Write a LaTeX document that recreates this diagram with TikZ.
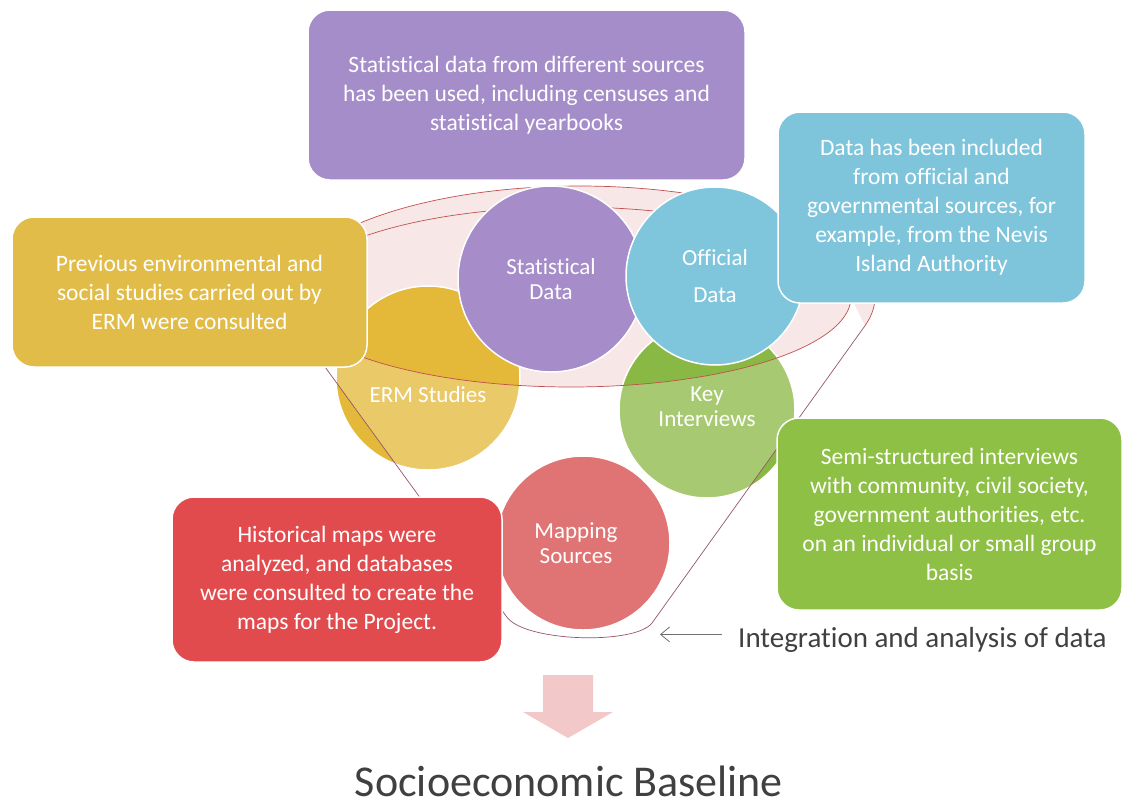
\documentclass[tikz,border=0pt]{standalone}
\usepackage{fontspec}
\setmainfont{Carlito}[Ligatures={NoCommon}]
\usetikzlibrary{arrows.meta}
\definecolor{cPurple}{HTML}{A58DC9}
\definecolor{cBlue}{HTML}{7EC5DB}
\definecolor{cYellow}{HTML}{E2BC48}
\definecolor{cRed}{HTML}{E24B4D}
\definecolor{cGreen}{HTML}{8DC044}
\definecolor{cErm}{HTML}{E4B838}
\definecolor{cKey}{HTML}{8AB844}
\definecolor{cMap}{HTML}{D64646}
\definecolor{cStat}{HTML}{A68CC8}
\definecolor{cOff}{HTML}{7FC6DC}
\definecolor{cRim}{HTML}{F8E7E7}
\definecolor{cLine}{HTML}{C0504D}
\definecolor{cBody}{HTML}{94566A}
\definecolor{cArrow}{HTML}{F3C8C8}
\definecolor{cText}{HTML}{404040}
\begin{document}
\begin{tikzpicture}[x=1pt,y=-1pt,
  box/.style={draw=white, line width=1.5pt, rounded corners=22pt, text=white, align=center,
    font=\fontsize{23.5}{29}\selectfont, inner sep=0pt},
  bubble/.style={circle, draw=white, line width=1.5pt, inner sep=0pt, text=white, align=center,
    font=\fontsize{23}{25}\selectfont},
  btext/.style={text=white, align=center, font=\fontsize{23}{25}\selectfont},
  rimline/.style={draw=cLine, line width=0.7pt},
  bodyline/.style={draw=cBody, line width=0.7pt},
  pointer/.style={draw=cText!75, line width=0.8pt, -{Straight Barb[length=9pt,width=15pt]}},
]
\useasboundingbox (0,0) rectangle (1123,809);
\fill[white] (0,0) rectangle (1123,809);

% funnel rim (pink)
\fill[cRim] plot[domain=164.7:375,samples=120] ({580+295*cos(\x)},{297+111*sin(\x)})
  -- plot[domain=0:180,samples=120] ({571+280*cos(\x)},{297+90*sin(\x)}) -- cycle;
\draw[rimline] plot[domain=164.7:375,samples=120] ({580+295*cos(\x)},{297+111*sin(\x)});
\draw[rimline] plot[domain=180:360,samples=120] ({571+280*cos(\x)},{297+90*sin(\x)});

% circles
\node[bubble, fill=cErm, minimum size=184pt] (erm) at (428,378) {};
\node[bubble, fill=cKey, minimum size=176pt] (key) at (707,410) {};
\node[bubble, fill=cMap, minimum size=174pt] (map) at (583,543) {};
\node[bubble, fill=cStat, minimum size=186pt] (stat) at (551,279) {Statistical\\Data};
\node[bubble, fill=cOff, minimum size=178pt, font=\fontsize{23}{37}\selectfont] (off) at (715,276) {Official\\Data};

% funnel body overlay
\fill[white, opacity=0.25] (295.5,326.3) -- (506.8,617) .. controls (525,642) and (635,645) .. (652,623)
  -- (865,325.7) -- plot[domain=0:180,samples=120] ({571+280*cos(\x)},{297+90*sin(\x)}) -- cycle;
\draw[rimline] plot[domain=0:180,samples=120] ({571+280*cos(\x)},{297+90*sin(\x)});
\draw[bodyline] (295.5,326.3) -- (506.8,617) .. controls (525,642) and (635,645) .. (652,623) -- (865,325.7);

% circle labels
\node[btext] (ermt) at (428,395) {ERM Studies};
\node[btext] (keyt) at (707,407) {Key\\Interviews};
\node[btext] (mapt) at (576,543) {Mapping\\Sources};

% boxes
\node[box, fill=cPurple, minimum width=437pt, minimum height=170pt] (pbox) at (526.5,95)
  {Statistical data from different sources\\has been used, including censuses and\\statistical yearbooks};
\node[box, fill=cBlue, minimum width=307pt, minimum height=191pt] (bbox) at (931.5,207.5)
  {Data has been included\\from official and\\governmental sources, for\\example, from the Nevis\\Island Authority};
\node[box, fill=cYellow, minimum width=355pt, minimum height=150pt] (ybox) at (189.5,292)
  {Previous environmental and\\social studies carried out by\\ERM were consulted};
\node[box, fill=cRed, minimum width=330pt, minimum height=165pt] (rbox) at (337,579.5)
  {Historical maps were\\analyzed, and databases\\were consulted to create the\\maps for the Project.};
\node[box, fill=cGreen, minimum width=345pt, minimum height=192pt] (gbox) at (949.5,514)
  {Semi-structured interviews\\with community, civil society,\\government authorities, etc.\\on an individual or small group\\basis};

% integration label
\node[text=cText, font=\fontsize{29}{32}\selectfont, anchor=base west, inner sep=0pt] (integ) at (738,647)
  {Integration and analysis of data};
\coordinate (funnelpt) at (660,635);
\coordinate (intstart) at ([xshift=-16pt,yshift=5pt]integ.west);
\draw[pointer] (intstart) -- (intstart -| funnelpt);

% down arrow
\fill[cArrow] (543,675) -- (593,675) -- (593,712) -- (613,712) -- (568,738) -- (523,712) -- (543,712) -- cycle;

% result
\node[text=cText, font=\fontsize{44}{48}\selectfont, anchor=base, inner sep=0pt] (base) at (569,796)
  {Socioeconomic Baseline};
\end{tikzpicture}
\end{document}
